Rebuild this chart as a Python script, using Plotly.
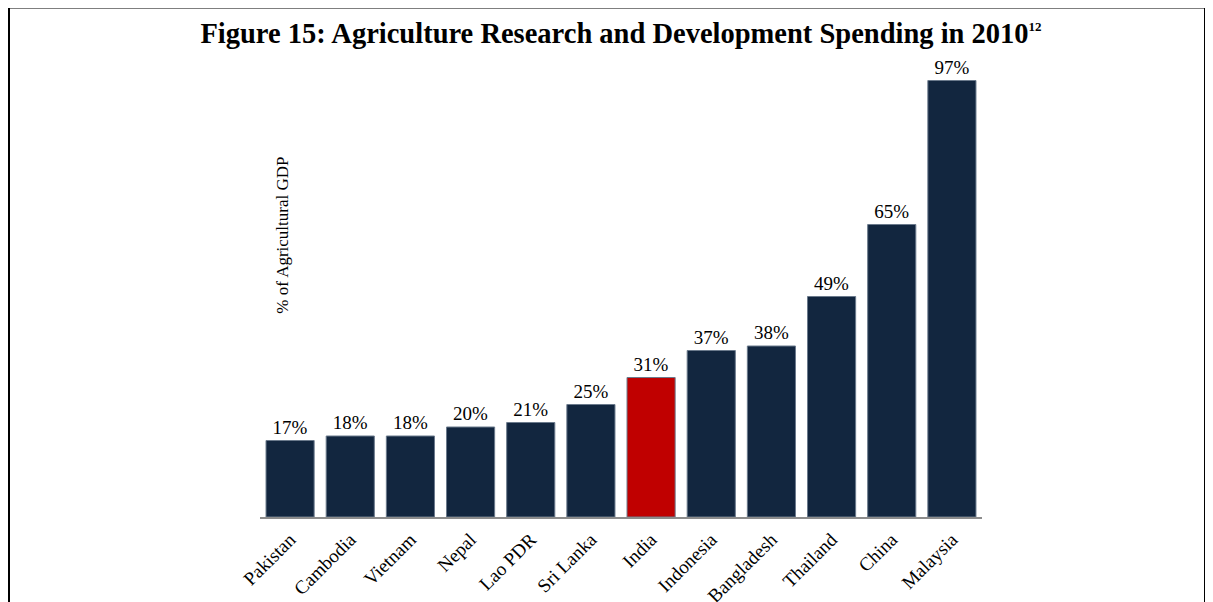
import plotly.graph_objects as go

countries = ["Pakistan", "Cambodia", "Vietnam", "Nepal", "Lao PDR", "Sri Lanka",
             "India", "Indonesia", "Bangladesh", "Thailand", "China", "Malaysia"]
spending = [17, 18, 18, 20, 21, 25, 31, 37, 38, 49, 65, 97]
highlight = "India"

navy = "#12263f"
red = "#c00000"
font = "Liberation Serif"

colors = [red if c == highlight else navy for c in countries]
labels = [f"{v}%" for v in spending]

# the page body adds an 8px margin, so the figure is 8px smaller each way
W, H = 1205, 594
L, T, PW, PH = 252, 59, 722, 450

fig = go.Figure()
fig.add_trace(go.Bar(
    x=countries, y=spending,
    marker=dict(color=colors, line=dict(color="#6b7a8c", width=1)),
    width=0.8,
    text=labels, textposition="outside", cliponaxis=False,
    textfont=dict(family=font, size=19, color="black"),
    showlegend=False,
))

fig.update_layout(
    width=W, height=H,
    margin=dict(l=L, r=W - L - PW, t=T, b=H - T - PH),
    paper_bgcolor="white", plot_bgcolor="white",
    font=dict(family=font, color="black"),
    title=dict(
        text="<b>Figure 15: Agriculture Research and Development Spending in 2010"
             "<sup><span style='font-size:13px'>12</span></sup></b>",
        x=0.5, xref="paper", xanchor="center", y=1 - 25 / H, yanchor="middle",
        font=dict(family=font, size=28.5, color="black"),
    ),
    bargap=0.2,
)
fig.update_xaxes(
    range=[-0.5, 11.5], showline=True, linecolor="#8c8c8c", linewidth=2,
    tickangle=-45, ticks="", ticklabelstandoff=2, automargin=False,
    tickfont=dict(family=font, size=19, color="black"),
    showgrid=False,
)
fig.update_yaxes(range=[0, 100], visible=False, showgrid=False, zeroline=False,
                 automargin=False)

fig.add_annotation(
    text="% of Agricultural GDP", textangle=-90,
    xref="paper", yref="y", x=(283 - 260) / PW, y=62.5,
    xanchor="center", yanchor="middle", showarrow=False,
    font=dict(family=font, size=17, color="black"),
)

# frame around the figure (figure pixel coords -> paper)
def px(x):
    return (x - L) / PW

def py(y):
    return (T + PH - y) / PH

fx0, fx1, fy0, fy1 = 1, 1197, -0.5, H + 20
for xa, ya, xb, yb in [(fx0, fy0, fx1, fy0), (fx0, fy0, fx0, fy1), (fx1, fy0, fx1, fy1)]:
    fig.add_shape(type="line", xref="paper", yref="paper",
                  x0=px(xa), y0=py(ya), x1=px(xb), y1=py(yb),
                  line=dict(color="black", width=2))

fig.write_html("out.html")
